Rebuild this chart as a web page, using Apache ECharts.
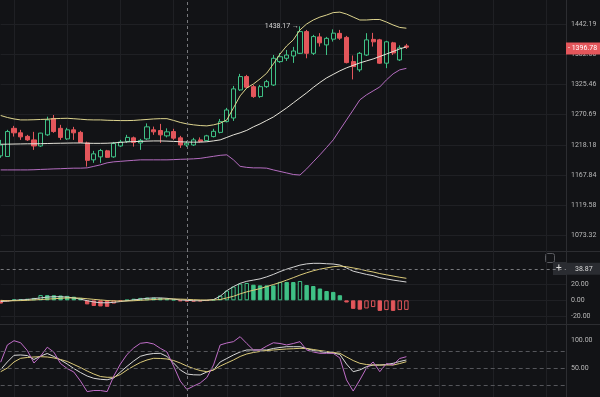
<!DOCTYPE html>
<html>
<head>
<meta charset="utf-8">
<script src="https://cdn.jsdelivr.net/npm/echarts@6/dist/echarts.min.js"></script>
<style>
html,body{margin:0;padding:0;background:#121316;}
#chart{width:600px;height:397px;}
</style>
</head>
<body>
<div id="chart"></div>
<script>
// candles (price)
const opens  = [1199.6,1198.5,1246.7,1238.9,1232.8,1226.7,1216.3,1235.4,1264.1,1246.7,1228.4,1244.1,1239.7,1221.5,1192.9,1197.9,1208.0,1197.9,1216.3,1224.1,1230.2,1221.5,1228.4,1244.1,1242.9,1233.7,1241.1,1230.2,1218.0,1218.0,1226.7,1225.5,1232.4,1239.7,1258.5,1264.9,1315.6,1340.4,1321.6,1303.4,1321.6,1324.7,1368.8,1375.2,1379.6,1384.8,1427.5,1384.8,1417.0,1401.2,1412.5,1424.0,1416.0,1368.8,1353.1,1381.5,1412.1,1411.1,1365.8,1405.2,1372.0,1399.2];
const closes = [1218.0,1241.1,1238.9,1231.9,1226.7,1216.3,1238.4,1261.5,1241.1,1231.0,1244.1,1238.9,1222.4,1192.1,1203.0,1208.5,1197.1,1220.6,1223.2,1231.0,1222.4,1225.8,1249.3,1240.6,1235.4,1240.6,1229.7,1218.0,1221.0,1226.7,1224.1,1233.7,1241.5,1258.5,1279.2,1317.5,1340.4,1320.5,1303.4,1321.6,1330.9,1375.2,1378.2,1381.5,1389.3,1427.5,1384.8,1417.6,1405.2,1414.1,1424.4,1414.5,1366.9,1359.3,1384.8,1411.1,1407.2,1365.8,1407.2,1385.4,1395.3,1396.78];
const lows   = [1196.3,1197.9,1232.4,1226.7,1225.0,1209.7,1214.7,1233.7,1238.9,1226.7,1226.7,1226.7,1221.5,1181.7,1187.9,1187.9,1196.3,1196.3,1214.7,1221.5,1215.2,1209.7,1226.7,1235.4,1221.5,1231.0,1226.7,1213.0,1214.7,1216.3,1222.4,1225.0,1231.0,1238.0,1257.1,1259.7,1313.8,1319.3,1301.1,1301.1,1319.3,1322.9,1366.3,1370.1,1366.3,1383.4,1375.2,1381.5,1397.9,1381.5,1407.7,1411.1,1365.4,1335.1,1349.3,1379.6,1397.9,1364.4,1356.3,1381.5,1370.1,1393.3];
const highs  = [1226.7,1244.1,1251.0,1244.1,1235.4,1240.6,1238.9,1267.2,1270.2,1252.8,1247.6,1249.3,1242.4,1223.7,1208.0,1211.3,1209.7,1223.2,1226.7,1235.4,1232.4,1228.4,1255.4,1249.8,1254.5,1246.7,1245.9,1233.7,1224.9,1230.2,1231.0,1235.4,1245.9,1263.2,1282.9,1322.9,1345.5,1343.6,1324.7,1324.7,1334.2,1381.5,1385.4,1391.3,1397.3,1438.17,1430.9,1421.0,1424.4,1417.0,1432.0,1430.9,1419.0,1380.5,1387.4,1424.4,1425.0,1413.1,1409.2,1407.2,1400.2,1403.2];

// bollinger bands
const bbUpper = [1269.3,1265.8,1263.2,1261.5,1261.5,1261.8,1262.3,1262.7,1263.6,1264.1,1264.4,1263.6,1262.7,1261.8,1261.5,1261.5,1260.9,1260.6,1260.3,1260.3,1260.6,1261.5,1262.3,1263.2,1263.7,1263.7,1260.6,1257.1,1254.5,1252.8,1251.6,1251.0,1252.8,1255.7,1261.5,1282.9,1304.7,1319.3,1326.6,1336.1,1346.8,1364.4,1383.4,1399.2,1411.1,1430.9,1442.8,1450.9,1456.9,1461.0,1466.0,1467.0,1463.0,1456.9,1450.9,1450.9,1451.9,1451.9,1446.8,1440.8,1435.9,1434.3];
const bbMiddle = [1219.2,1219.4,1219.6,1219.8,1220.0,1220.0,1220.2,1220.5,1220.8,1221.0,1221.2,1221.4,1221.4,1221.0,1220.8,1220.8,1221.0,1221.6,1222.4,1223.2,1223.8,1224.1,1224.6,1224.9,1224.9,1224.6,1224.1,1223.5,1223.0,1222.8,1222.9,1223.5,1225.0,1226.7,1231.0,1235.4,1238.9,1243.2,1249.3,1254.5,1260.6,1266.7,1274.7,1282.9,1292.0,1301.1,1310.2,1320.2,1329.4,1337.9,1344.6,1351.2,1356.9,1361.6,1366.3,1370.1,1373.9,1378.6,1383.4,1388.3,1393.3,1397.3];
const bbLower = [1176.2,1176.2,1176.2,1176.2,1176.2,1176.5,1177.0,1177.4,1177.9,1178.2,1178.7,1179.1,1179.1,1179.6,1182.1,1184.6,1187.9,1189.6,1190.4,1191.3,1192.1,1192.9,1192.9,1192.9,1192.9,1192.9,1193.3,1193.8,1194.1,1194.6,1195.4,1197.1,1198.8,1200.5,1201.3,1192.9,1182.1,1180.4,1179.6,1179.6,1179.1,1176.2,1173.7,1171.2,1168.7,1167.8,1177.9,1189.6,1201.3,1213.8,1226.7,1244.1,1261.5,1279.2,1297.4,1306.5,1313.8,1321.1,1334.2,1345.5,1353.1,1355.9];

// MACD
const dif  = [-1.5,-1,0,0.5,1,2,3,4,4.5,4.5,4,3,1.5,-0.5,-2,-3,-3,-2.5,-1.5,-0.5,0.5,1.5,2.5,3,3,2.5,1.5,0.5,0,-0.5,-0.5,0,1,5,12,17,21,23.5,25,26.5,29,32,35.5,38.5,41,43.5,45,45.7,45.7,45.2,44.8,43.6,40,36,34,32,30.5,28,26.5,25,23.8,22.6];
const dea  = [0,-0.5,-0.5,-0.3,0,0.5,1,1.5,2,2.5,3,3,2.7,2,1.2,0.5,-0.2,-0.7,-0.8,-0.8,-0.5,0,0.5,1,1.5,1.7,1.7,1.5,1.2,0.8,0.5,0.4,0.5,1,3,5,8,10.5,12.5,14.5,17,19.5,22,25,28,31.2,34,36.5,38.5,40,41.5,42.3,41.5,40,38.5,36.5,35,33,31.5,30,28.5,27.2];
const hist = [-4,-1,1,1.5,2,3,6.5,6.4,6.3,6,5.5,4.5,3,-5,-7,-7.5,-8,-4,-1.5,0.5,2,3,3.5,3.4,3,2,1,-1,-1.5,-1.6,-1.2,-0.5,1,6,12,17,20.6,21.4,19.3,18.5,18.45,18.4,22.8,22.7,22.6,23.9,18.9,17.7,14.6,11.5,10.4,6.3,-2.7,-10.5,-11.5,-10,-8.3,-13,-12,-13,-12,-11.8];

// KDJ
const kLine = [47.8,61.4,73.4,74,73,65.9,72,76.7,71.3,65,57.7,49.6,42.4,36.1,32,30.2,29.3,32.5,43.3,53.6,63.2,71.6,74.9,76.7,77,71.3,59.5,47,39.7,38.3,38,43.3,47,61.4,67.7,74,79.4,83,83,83,83,85.7,87.5,88.9,88.9,88.9,85.7,82,79.9,78.5,77.6,74.9,57.7,43.9,47,52.9,55.9,55.9,56.8,59,62.3,65];
const dLine = [43.9,50.5,61.4,68,69.5,70.4,70.9,70.4,68.6,65.9,62.3,56.8,51.4,45.1,39.7,35.2,33.8,33.8,38.8,47,54,60.5,65,68,67.7,66.8,64,59.5,54,49.6,46,43.9,47,54,59.5,65,71.3,75.8,78.5,80.3,82,83,83.9,84.8,85.3,86,85.7,83.9,82,80.3,78.5,77,70.4,64,59,56.8,55.9,55.9,55.9,55.9,58.6,61.9];
const jLine = [61,92,99.7,96,82,59.5,72,88,79,58.6,49.6,43.3,27,8,10,10,8,36,57.7,74.9,86.6,95,96.5,93.8,86,79.4,54,27,11.8,18,23.5,33.4,56,92,95.6,98,107,94.7,83,83,90,96,94.7,92,94.7,98,83,79.4,77,77,77,68.6,29,9,29,50.5,61.4,43.9,58.6,56,67.7,70.9];

// axis ticks / markers
const priceTicks = [1442.19,1382.60,1325.46,1270.69,1218.18,1167.84,1119.58,1073.32];
const macdTicks = [20,0,-20];
const kdjTicks = [100,50];
const kdjLevels = [80,50,20];
const lastPrice = 1396.78;
const crossValue = 38.87;
const crossIndex = 28;
const slotCount = 86;
const categories = Array.from({length: slotCount}, (_, i) => 'd' + i);

const ln = Math.log;
const BG = '#121316';
const UP = '#3fc186';
const DOWN = '#e3565b';
const GRIDC = '#1f2024';
const FONT = 'Roboto';

// main pane: log price mapped on a value axis
const mainH = 251;
const topTickY = 24.3, botTickY = 235.3;
const logHi = ln(priceTicks[0]), logLo = ln(priceTicks[priceTicks.length - 1]);
const perPx = (logHi - logLo) / (botTickY - topTickY);
const mainMax = logHi + topTickY * perPx;
const mainMin = logLo - (mainH - botTickY) * perPx;

const candleData = opens.map((o, i) => [ln(o), ln(closes[i]), ln(lows[i]), ln(highs[i])]);

// histogram: hollow when the bar rises against the previous one, filled when it falls
const histData = hist.map((v, i) => {
  const hollow = i > 0 && v > hist[i - 1];
  const c = v >= 0 ? UP : DOWN;
  return {value: v, itemStyle: {color: hollow ? BG : c, borderColor: c, borderWidth: 1}};
});

const vCross = {xAxis: categories[crossIndex], lineStyle: {color: '#77787c', type: [3, 3], width: 1}, label: {show: false}};

function xAxisFor(idx) {
  return {
    type: 'category', gridIndex: idx, data: categories, boundaryGap: false,
    axisLine: {show: false}, axisTick: {show: false}, axisLabel: {show: false},
    splitLine: {show: true, interval: (i) => (i - 2) % 8 === 0, lineStyle: {color: GRIDC, width: 1}}
  };
}

const labelStyle = {color: '#b9b9b9', fontSize: 7, fontFamily: FONT, margin: 5};

const chart = echarts.init(document.getElementById('chart'), null, {renderer: 'canvas'});
chart.setOption({
  backgroundColor: BG,
  animation: false,
  grid: [
    {left: 0.7, right: 34, top: 0, height: mainH, outerBoundsMode: 'none'},
    {left: 0.7, right: 34, top: 251, height: 73, outerBoundsMode: 'none'},
    {left: 0.7, right: 34, top: 324, height: 73, outerBoundsMode: 'none'}
  ],
  xAxis: [xAxisFor(0), xAxisFor(1), xAxisFor(2)],
  yAxis: [
    {
      type: 'value', gridIndex: 0, position: 'right', min: mainMin, max: mainMax,
      axisLine: {show: true, lineStyle: {color: '#2c2d31'}},
      axisTick: {show: false, customValues: priceTicks.map(ln)},
      axisLabel: Object.assign({customValues: priceTicks.map(ln), formatter: (v) => Math.exp(v).toFixed(2)}, labelStyle),
      splitLine: {show: true, lineStyle: {color: GRIDC}}
    },
    {
      type: 'value', gridIndex: 1, position: 'right', min: -29.2, max: 60.9,
      axisLine: {show: true, lineStyle: {color: '#2c2d31'}},
      axisTick: {show: false, customValues: macdTicks},
      axisLabel: Object.assign({customValues: macdTicks, formatter: (v) => v.toFixed(2)}, labelStyle),
      splitLine: {show: true, lineStyle: {color: GRIDC}}
    },
    {
      type: 'value', gridIndex: 2, position: 'right', min: -1.7, max: 129.8,
      axisLine: {show: true, lineStyle: {color: '#2c2d31'}},
      axisTick: {show: false, customValues: kdjTicks},
      axisLabel: Object.assign({customValues: kdjTicks, formatter: (v) => v.toFixed(2)}, labelStyle),
      splitLine: {show: false}
    }
  ],
  series: [
    {
      type: 'candlestick', xAxisIndex: 0, yAxisIndex: 0, data: candleData, barWidth: 4.6,
      itemStyle: {color: BG, color0: DOWN, borderColor: UP, borderColor0: DOWN, borderWidth: 1},
      markPoint: {
        symbol: 'circle', symbolSize: 0, silent: true,
        data: [{type: 'max', valueDim: 'highest'}],
        label: {show: true, position: 'left', distance: 1, color: '#d6d6d6', fontSize: 7, fontFamily: FONT,
          formatter: (p) => Math.exp(p.value).toFixed(2) + ' \u2192'}
      },
      markLine: {
        silent: true, symbol: 'none',
        data: [
          {yAxis: ln(lastPrice), lineStyle: {color: 'rgba(0,0,0,0)'},
            label: {show: true, position: 'end', distance: 0, formatter: '- ' + lastPrice.toFixed(2),
              backgroundColor: DOWN, color: '#ffffff', fontSize: 7, fontFamily: FONT, padding: [3, 3, 2, 2]}},
          vCross
        ]
      }
    },
    {type: 'line', xAxisIndex: 0, yAxisIndex: 0, data: bbUpper.map(ln), showSymbol: false, lineStyle: {color: '#ddd48e', width: 1}},
    {type: 'line', xAxisIndex: 0, yAxisIndex: 0, data: bbMiddle.map(ln), showSymbol: false, lineStyle: {color: '#e6e4da', width: 1}},
    {type: 'line', xAxisIndex: 0, yAxisIndex: 0, data: bbLower.map(ln), showSymbol: false, lineStyle: {color: '#b56dc0', width: 1}},

    {
      type: 'bar', xAxisIndex: 1, yAxisIndex: 1, data: histData, barWidth: 4.4,
      markLine: {silent: true, symbol: 'none', data: [vCross]}
    },
    {
      type: 'line', xAxisIndex: 1, yAxisIndex: 1, data: dif, showSymbol: false, lineStyle: {color: '#d4d4d4', width: 1},
      markLine: {
        silent: true, symbol: 'none',
        data: [{yAxis: crossValue, lineStyle: {color: '#77787c', type: [3, 3], width: 1},
          label: {show: true, position: 'end', distance: 0, formatter: crossValue.toFixed(2),
            backgroundColor: '#2a2c31', color: '#d8d8d8', fontSize: 7, fontFamily: FONT, padding: [3, 8, 2, 9]}}]
      }
    },
    {type: 'line', xAxisIndex: 1, yAxisIndex: 1, data: dea, showSymbol: false, lineStyle: {color: '#dccb7a', width: 1}},

    {
      type: 'line', xAxisIndex: 2, yAxisIndex: 2, data: kLine, showSymbol: false, lineStyle: {color: '#d8d8d8', width: 1},
      markLine: {silent: true, symbol: 'none', data: [vCross]}
    },
    {
      type: 'line', xAxisIndex: 2, yAxisIndex: 2, data: dLine, showSymbol: false, lineStyle: {color: '#dccb7a', width: 1},
      markLine: {silent: true, symbol: 'none', label: {show: false},
        lineStyle: {color: '#55565b', type: [4, 3], width: 1},
        data: kdjLevels.map((v) => ({yAxis: v}))}
    },
    {type: 'line', xAxisIndex: 2, yAxisIndex: 2, data: jLine, showSymbol: false, lineStyle: {color: '#c06ec8', width: 1}}
  ],
  graphic: [
    {type: 'line', shape: {x1: 0, y1: 251.5, x2: 600, y2: 251.5}, style: {stroke: '#2c2d31', lineWidth: 1}, silent: true},
    {type: 'line', shape: {x1: 0, y1: 324.5, x2: 600, y2: 324.5}, style: {stroke: '#2c2d31', lineWidth: 1}, silent: true},
    {type: 'rect', shape: {x: 545.5, y: 253.5, width: 9, height: 9, r: 2}, style: {fill: 'none', stroke: '#5a5b60', lineWidth: 1}, silent: true},
    {type: 'rect', shape: {x: 553, y: 262, width: 14, height: 13}, style: {fill: '#2a2c31'}, silent: true},
    {type: 'text', x: 556, y: 263, style: {text: '+', fill: '#e0e0e0', fontSize: 10, fontFamily: FONT}, silent: true}
  ]
});
</script>
</body>
</html>
